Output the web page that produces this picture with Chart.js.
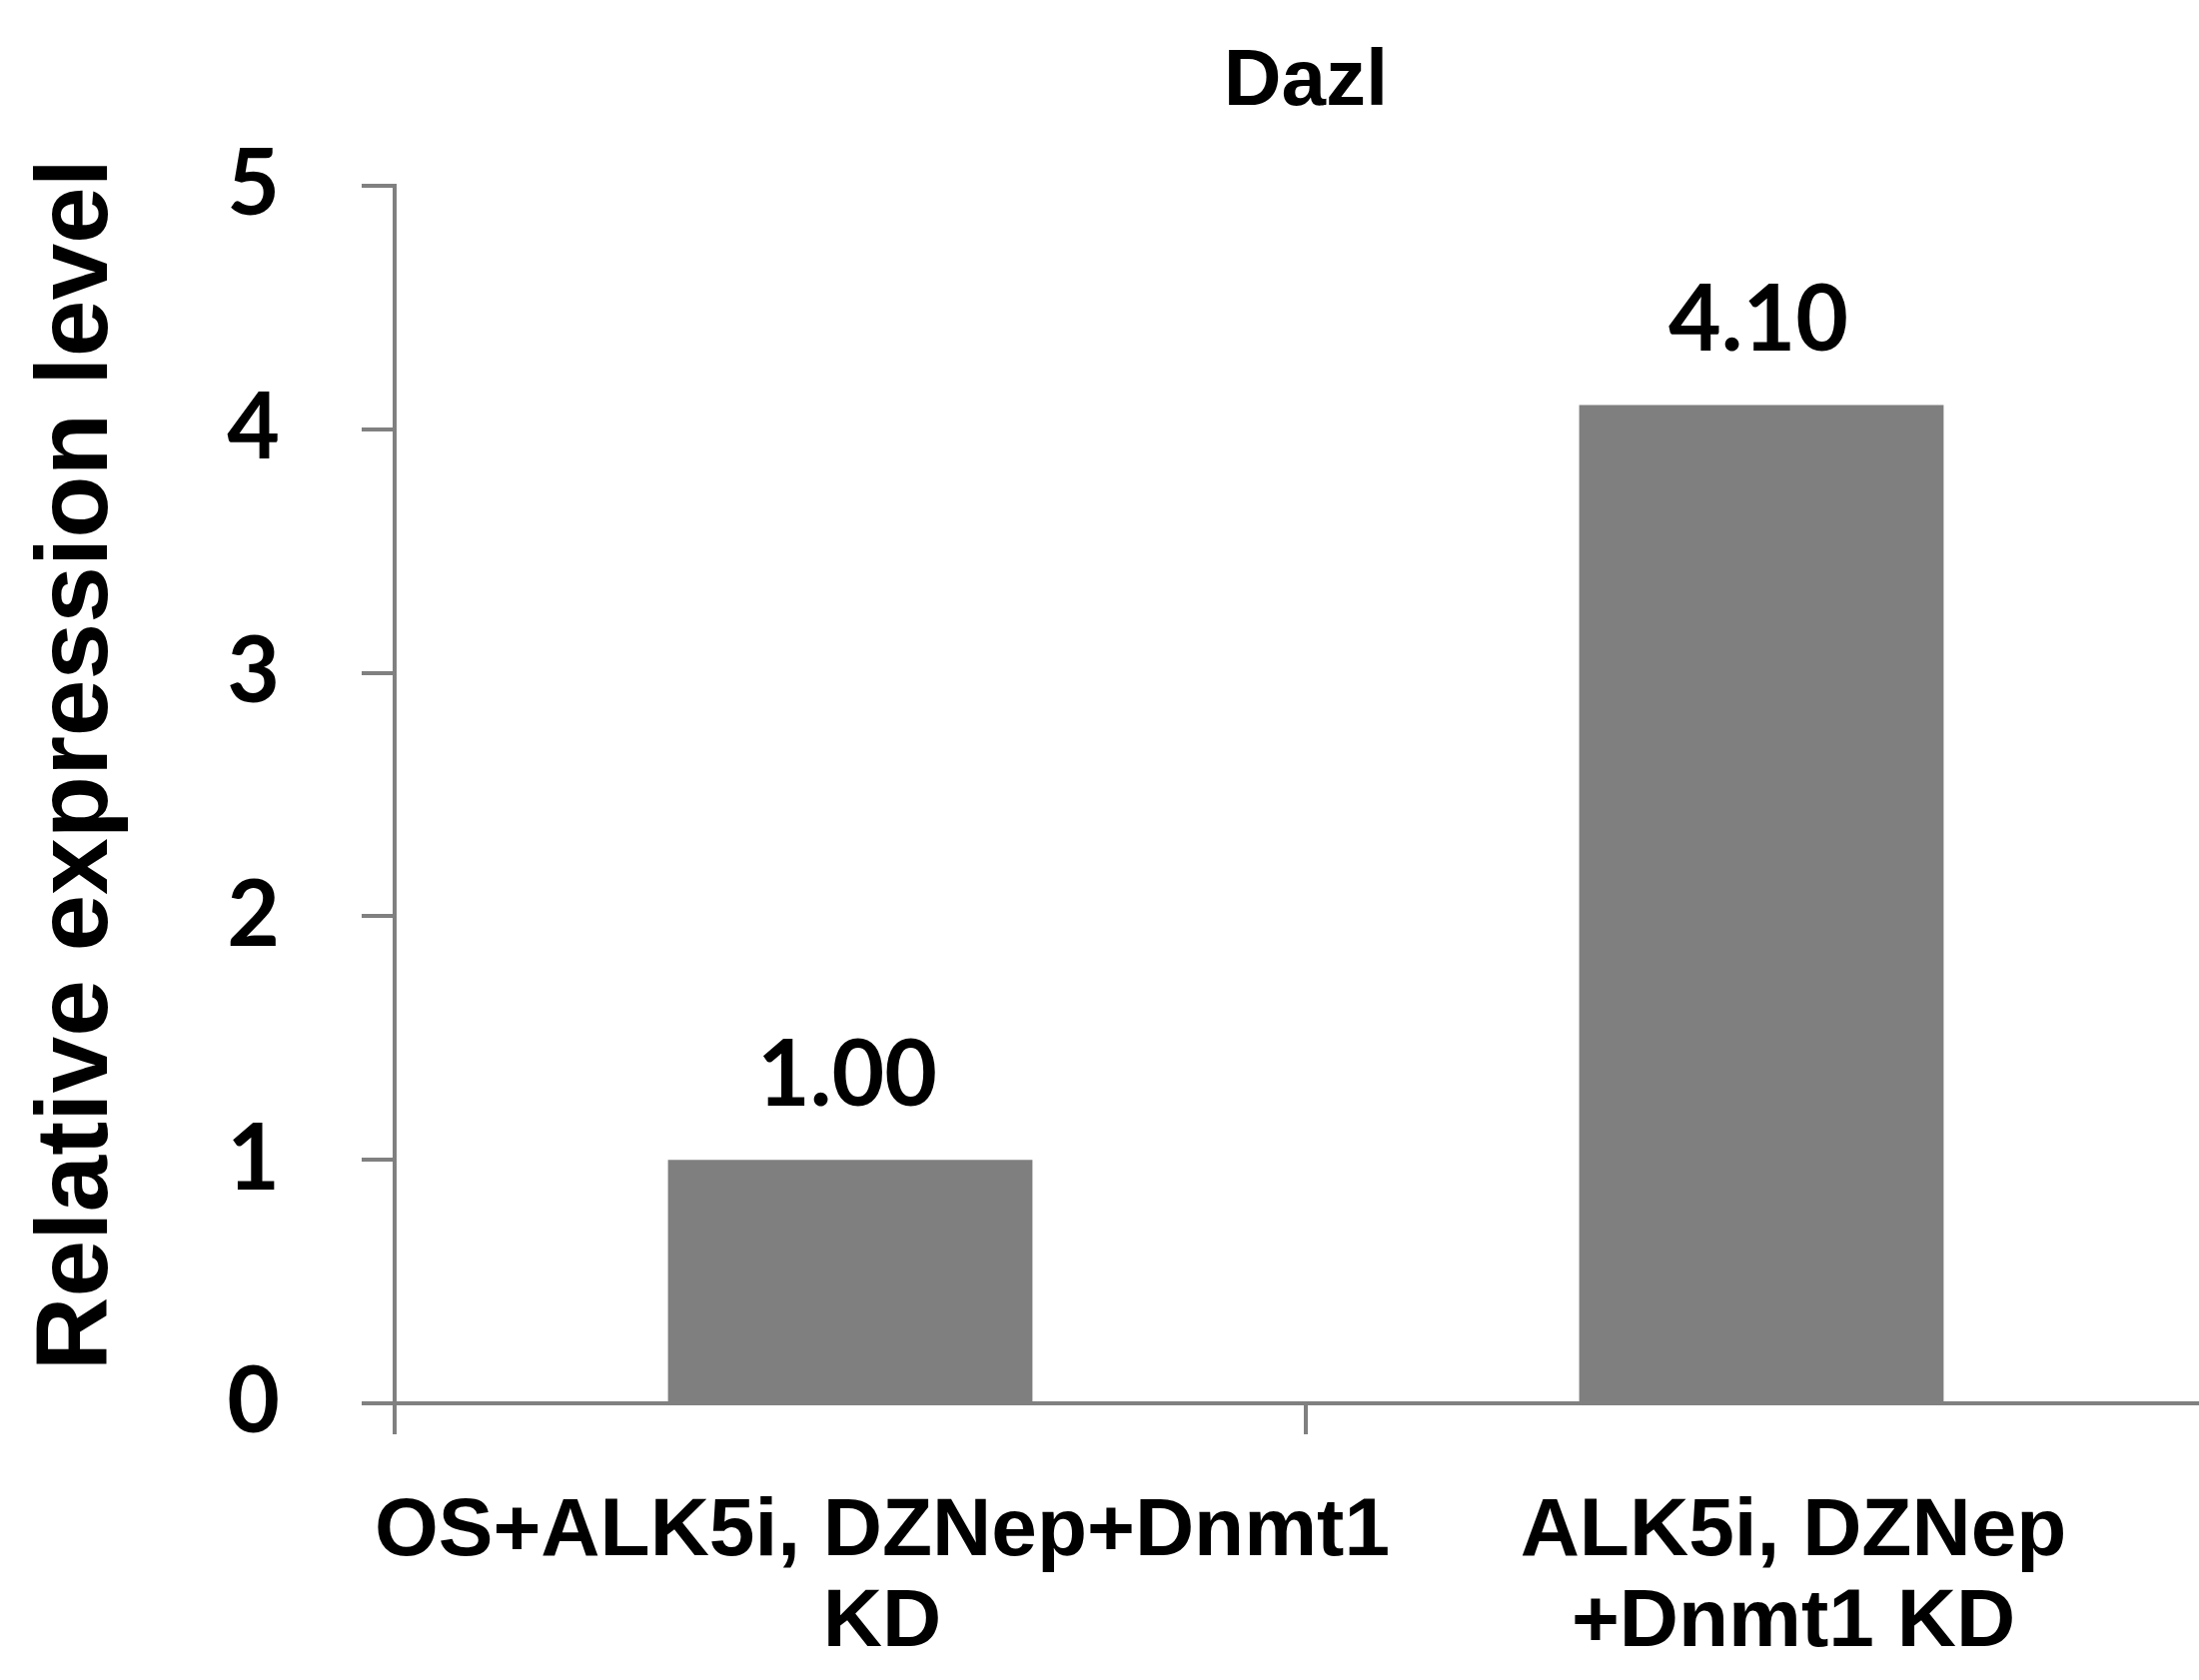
<!DOCTYPE html>
<html>
<head>
<meta charset="utf-8">
<title>Dazl</title>
<script src="https://cdn.jsdelivr.net/npm/chart.js@4"></script>
<style>
  html, body { margin: 0; padding: 0; background: #ffffff; overflow: hidden; }
  #wrap { width: 2201px; height: 1682px; overflow: hidden; position: relative; }
  canvas { display: block; }
</style>
</head>
<body>
<div id="wrap"><canvas id="chart" width="2230" height="1682" style="width:2230px;height:1682px"></canvas></div>
<script>
// Chart content
const chartTitle = "Dazl";
const yAxisTitle = "Relative expression level";
const categories = [
  ["OS+ALK5i, DZNep+Dnmt1", "KD"],
  ["ALK5i, DZNep", "+Dnmt1 KD"]
];
const expressionValues = [1.00, 4.10];
const yTickValues = [0, 1, 2, 3, 4, 5];

const AXIS_GREY = "#808080";
const BAR_GREY = "#7f7f7f";

// Chart title and rotated y-axis title, placed relative to the plot area
const titlesPlugin = {
  id: "titles",
  afterDraw(chart) {
    const { ctx, chartArea } = chart;
    ctx.save();
    ctx.fillStyle = "#000000";
    ctx.font = "bold 80px 'Liberation Sans', Arial, sans-serif";
    ctx.textAlign = "center";
    ctx.textBaseline = "alphabetic";
    ctx.fillText(chartTitle, (chartArea.left + chartArea.right) / 2, 105);

    ctx.font = "bold 102px 'Liberation Sans', Arial, sans-serif";
    ctx.translate(107, (chartArea.top + chartArea.bottom) / 2 - 30);
    ctx.rotate(-Math.PI / 2);
    ctx.fillText(yAxisTitle, 0, 0);
    ctx.restore();
  }
};

// Value printed above each bar
const valueLabelPlugin = {
  id: "valueLabels",
  afterDatasetsDraw(chart) {
    const { ctx } = chart;
    const meta = chart.getDatasetMeta(0);
    ctx.save();
    ctx.fillStyle = "#000000";
    ctx.font = "bold 91px Lato, 'Open Sans', sans-serif";
    ctx.textAlign = "center";
    ctx.textBaseline = "alphabetic";
    meta.data.forEach((bar, i) => {
      const v = chart.data.datasets[0].data[i];
      ctx.fillText(v.toFixed(2), bar.x - 3, bar.y - 54);
    });
    ctx.restore();
  }
};

new Chart(document.getElementById("chart"), {
  type: "bar",
  data: {
    labels: categories,
    datasets: [{
      data: expressionValues,
      backgroundColor: BAR_GREY,
      borderWidth: 0,
      categoryPercentage: 1.0,
      barPercentage: 0.4
    }]
  },
  options: {
    responsive: false,
    animation: false,
    devicePixelRatio: 1,
    layout: { padding: { top: 186, right: 11, left: 0, bottom: 0 } },
    plugins: {
      legend: { display: false },
      tooltip: { enabled: false },
      title: { display: false }
    },
    scales: {
      x: {
        type: "category",
        grid: {
          display: true,
          drawOnChartArea: false,
          drawTicks: true,
          tickLength: 31,
          color: AXIS_GREY,
          lineWidth: 4,
          offset: true
        },
        border: { display: true, color: AXIS_GREY, width: 4 },
        ticks: {
          color: "#000000",
          font: { family: "'Liberation Sans', Arial, sans-serif", weight: "bold", size: 82, lineHeight: 1.12 },
          padding: 52,
          labelOffset: 32,
          maxRotation: 0,
          minRotation: 0,
          autoSkip: false
        },
        afterFit(scale) { scale.height = 277; }
      },
      y: {
        min: 0,
        max: 5,
        afterBuildTicks(scale) {
          scale.ticks = yTickValues.map(v => ({ value: v }));
        },
        grid: {
          display: true,
          drawOnChartArea: false,
          drawTicks: true,
          tickLength: 33,
          color: AXIS_GREY,
          lineWidth: 4
        },
        border: { display: true, color: AXIS_GREY, width: 4 },
        ticks: {
          color: "#000000",
          font: { family: "Lato, 'Open Sans', sans-serif", weight: "bold", size: 91 },
          padding: 82,
          callback: (v) => String(v)
        },
        afterFit(scale) { scale.width = 395; }
      }
    }
  },
  plugins: [titlesPlugin, valueLabelPlugin]
});
</script>
</body>
</html>
